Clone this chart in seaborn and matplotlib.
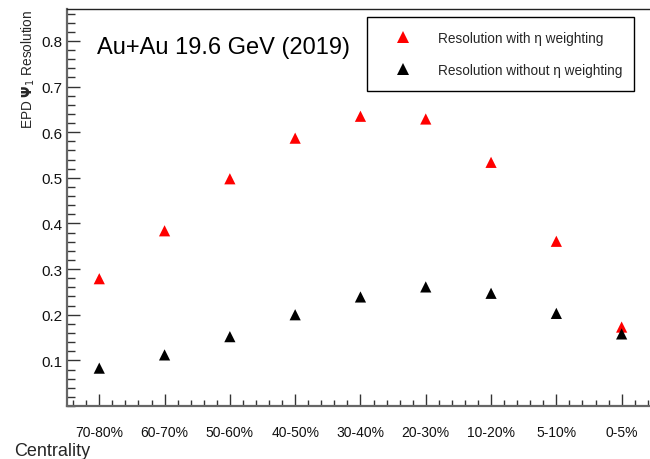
import pandas as pd
import seaborn as sns
import matplotlib.pyplot as plt
from matplotlib.ticker import MultipleLocator

# centrality classes, peripheral -> central
centrality = ['70-80%', '60-70%', '50-60%', '40-50%', '30-40%',
              '20-30%', '10-20%', '5-10%', '0-5%']
res_with_eta = [0.279, 0.384, 0.498, 0.587, 0.635, 0.629, 0.534, 0.361, 0.173]
res_without_eta = [0.083, 0.112, 0.152, 0.200, 0.239, 0.261, 0.247, 0.203, 0.158]

lab_with = 'Resolution with η weighting'
lab_without = 'Resolution without η weighting'

df = pd.concat([
    pd.DataFrame({'centrality': centrality, 'res': res_with_eta, 'series': lab_with}),
    pd.DataFrame({'centrality': centrality, 'res': res_without_eta, 'series': lab_without}),
])

sns.set_style("white")
plt.rcParams['font.family'] = ['Liberation Sans', 'DejaVu Sans']
plt.rcParams['mathtext.fontset'] = 'dejavusans'

fig = plt.figure(figsize=(6.5, 4.6), dpi=100)
ax = fig.add_axes([0.1025, 0.1152, 0.9041, 0.8630])

sns.scatterplot(data=df, x='centrality', y='res', hue='series',
                palette={lab_with: '#ff0000', lab_without: '#000000'},
                marker='^', s=65, linewidth=0, ax=ax, legend=True)

ax.set_xlim(-0.5, 8.5)
ax.set_ylim(0, 0.87)
ax.yaxis.set_major_locator(MultipleLocator(0.1))
ax.yaxis.set_minor_locator(MultipleLocator(0.02))
ax.xaxis.set_minor_locator(MultipleLocator(0.2))
ax.set_yticks([0.1, 0.2, 0.3, 0.4, 0.5, 0.6, 0.7, 0.8])
ax.set_yticklabels(['0.1', '0.2', '0.3', '0.4', '0.5', '0.6', '0.7', '0.8'])

ax.tick_params(axis='x', which='major', direction='in', length=8.6, width=1,
               color='#333333', labelsize=10, pad=14, labelcolor='#111111')
ax.tick_params(axis='x', which='minor', direction='in', length=4.3, width=1, color='#333333')
ax.tick_params(axis='y', which='major', direction='in', length=9.5, width=1,
               color='#333333', labelsize=11, pad=3, labelcolor='#111111')
ax.tick_params(axis='y', which='minor', direction='in', length=5.5, width=1, color='#333333')
ax.tick_params(left=True, bottom=True, which='both')

for side in ['left', 'bottom']:
    ax.spines[side].set_color('#666666')
    ax.spines[side].set_linewidth(1.6)
ax.spines['top'].set_color('#222222')
ax.spines['top'].set_linewidth(1.0)
ax.spines['right'].set_visible(False)

ax.set_ylabel(r'EPD $\mathbf{\Psi}_{1}$ Resolution', fontsize=9.8, loc='top')
ax.yaxis.set_label_coords(-0.05, 1.0)
ax.set_xlabel('Centrality', fontsize=13, loc='left')
ax.xaxis.set_label_coords(-0.0896, -0.09)

fig.text(97 / 650, 1 - 48 / 460, 'Au+Au 19.6 GeV (2019)', fontsize=17,
         ha='left', va='center', color='black')

ax.legend(title=None, loc='upper left', mode='expand',
          bbox_to_anchor=(367 / 650, 1 - 88 / 460, 267 / 650, 70 / 460),
          bbox_transform=fig.transFigure, borderaxespad=0,
          frameon=True, fancybox=False, framealpha=1, edgecolor='black',
          fontsize=9.8, labelspacing=1.35, borderpad=1.0,
          handlelength=3.3, handletextpad=0.9, markerscale=1.0)
ax.get_legend().get_frame().set_linewidth(1.0)

plt.savefig('out.png', dpi=100)
